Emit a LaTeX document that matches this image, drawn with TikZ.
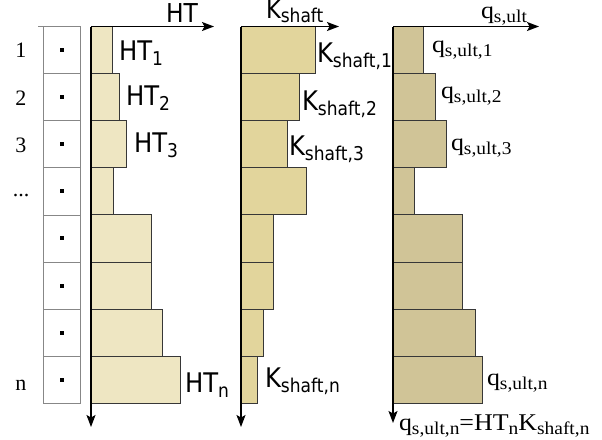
\documentclass[tikz,border=0pt]{standalone}
\usepackage{fontspec}
\usetikzlibrary{arrows.meta}

% label fonts
\newfontfamily\sflab[FakeStretch=0.9]{DejaVu Sans}
\newfontfamily\rmlab[FakeStretch=1.08]{Liberation Serif}
\newfontfamily\rmnum{Liberation Serif}
\newcommand\ssub[1]{\raisebox{-5pt}{\fontsize{19}{19}\selectfont #1}}
\newcommand\rsub[1]{\raisebox{-4.5pt}{\fontsize{18}{18}\selectfont #1}}
\newcommand\sfbig{\sflab\fontsize{27}{27}\selectfont}
\newcommand\rmbig{\rmlab\fontsize{24}{24}\selectfont}

\definecolor{htfill}{RGB}{238,230,194}
\definecolor{kfill}{RGB}{226,213,156}
\definecolor{qfill}{RGB}{208,196,151}
\definecolor{barline}{RGB}{55,55,55}
\definecolor{cellline}{RGB}{135,135,135}

\tikzset{
  cellbox/.style={draw=cellline, line width=0.8pt, minimum width=37pt,
    minimum height=47.1pt, inner sep=0pt, outer sep=0pt},
  dotmark/.style={fill=black, minimum size=4pt, inner sep=0pt},
  bar/.style={draw=barline, line width=0.9pt},
  axis/.style={line width=1.4pt, -{Stealth[length=12pt,width=9pt,inset=2.5pt]}},
  lab/.style={anchor=base west, inner sep=0pt, outer sep=0pt},
  num/.style={anchor=base, inner sep=0pt, font=\rmnum\fontsize{22}{22}\selectfont},
}

\begin{document}
\begin{tikzpicture}[x=1pt,y=-1pt]
\useasboundingbox (0,0) rectangle (602,439);

% layer column with one marker per layer
\foreach \i in {0,...,7}{
  \node[cellbox] (cell\i) at (61.5,{26.5+47.1*\i+23.55}) {};
  \node[dotmark] (dot\i) at (cell\i.center) {};
}
\coordinate (celltip) at (38,26.5);
\draw[cellline, line width=0.8pt] (celltip) -- (cell0.north west);

% layer indices
\node[num] (n1) at (21,57) {1};
\node[num] (n2) at (21,105) {2};
\node[num] (n3) at (21,152) {3};
\node[num] (ndots) at (21,196) {...};
\node[num] (nn) at (21,390) {n};

% bar profiles: right edges per layer
\foreach \r [count=\i from 0] in {112,119,126,113,151,151,162,180}
  \draw[bar, fill=htfill] (91,{26.5+47.1*\i}) rectangle (\r,{26.5+47.1*(\i+1)});
\foreach \r [count=\i from 0] in {315,299,287,306,273,273,263,257}
  \draw[bar, fill=kfill] (241,{26.5+47.1*\i}) rectangle (\r,{26.5+47.1*(\i+1)});
\foreach \r [count=\i from 0] in {423,435,446,414,462,462,475,482}
  \draw[bar, fill=qfill] (393,{26.5+47.1*\i}) rectangle (\r,{26.5+47.1*(\i+1)});

% axes
\coordinate (htO) at (91,26.5);
\coordinate (htX) at (214,26.5);
\coordinate (htY) at (91,427);
\coordinate (kO) at (241,26.5);
\coordinate (kX) at (339,26.5);
\coordinate (kY) at (241,427);
\coordinate (qO) at (393,26.5);
\coordinate (qX) at (539,26.5);
\coordinate (qY) at (393,423);
\draw[axis] (htO) -- (htX);
\draw[axis] (htO) -- (htY);
\draw[axis] (kO) -- (kX);
\draw[axis] (kO) -- (kY);
\draw[axis] (qO) -- (qX);
\draw[axis] (qO) -- (qY);

% HT labels
\node[lab] (lht) at (166,23) {\sflab\fontsize{26}{26}\selectfont HT};
\node[lab] (lht1) at (119,60) {\sfbig HT\ssub{1}};
\node[lab] (lht2) at (126,105) {\sfbig HT\ssub{2}};
\node[lab] (lht3) at (134,152) {\sfbig HT\ssub{3}};
\node[lab] (lhtn) at (185,392) {\sfbig HT\ssub{n}};

% K_shaft labels
\node[lab] (lk) at (266,18) {\sflab\fontsize{25}{25}\selectfont K\ssub{shaft}};
\node[lab] (lk1) at (317,62) {\sfbig K\ssub{shaft,1}};
\node[lab] (lk2) at (302,110) {\sfbig K\ssub{shaft,2}};
\node[lab] (lk3) at (289,155) {\sfbig K\ssub{shaft,3}};
\node[lab] (lkn) at (265,387) {\sfbig K\ssub{shaft,n}};

% q_s,ult labels
\node[lab] (lq) at (481,18.5) {\rmbig q\rsub{s,ult}};
\node[lab] (lq1) at (432,52) {\rmbig q\rsub{s,ult,1}};
\node[lab] (lq2) at (441,98) {\rmbig q\rsub{s,ult,2}};
\node[lab] (lq3) at (451,150) {\rmbig q\rsub{s,ult,3}};
\node[lab] (lqn) at (487,385) {\rmbig q\rsub{s,ult,n}};
\node[lab] (lform) at (399,430) {\rmbig q\rsub{s,ult,n}=HT\rsub{n}K\rsub{shaft,n}};
\end{tikzpicture}
\end{document}
